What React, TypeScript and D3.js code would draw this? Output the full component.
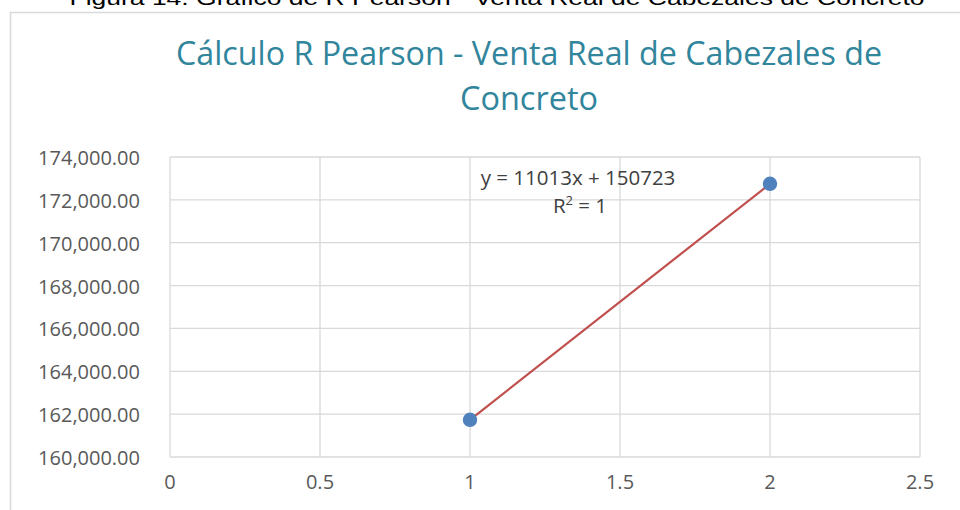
import React from "react";
import * as d3 from "d3";

const xValues = [1, 2];
const yValues = [161736, 172749];
const xTicks = [0, 0.5, 1, 1.5, 2, 2.5];
const yTicks = [160000, 162000, 164000, 166000, 168000, 170000, 172000, 174000];
const titleLines = ["Cálculo R Pearson - Venta Real de Cabezales de", "Concreto"];
const captionText = "Figura 14. Gráfico de R Pearson - Venta Real de Cabezales de Concreto";
const eqLine = "y = 11013x + 150723";

const W = 960;
const H = 510;
const plot = { left: 170, right: 920, top: 157, bottom: 457 };

export default function App() {
  const x = d3.scaleLinear().domain([0, 2.5]).range([plot.left, plot.right]);
  const y = d3.scaleLinear().domain([160000, 174000]).range([plot.bottom, plot.top]);
  const fmt = d3.format(",.2f");
  const line = d3
    .line<number>()
    .x((_, i) => x(xValues[i]))
    .y((d) => y(d));
  const font = "'Open Sans', sans-serif";
  return (
    <svg
      width={W}
      height={H}
      style={{ position: "absolute", left: 0, top: 0, background: "#fff" }}
    >
      <text
        x={497}
        y={5}
        textAnchor="middle"
        fontFamily="'Liberation Sans', Arial, sans-serif"
        fontSize={21}
        fill="#000"
        textLength={855}
        lengthAdjust="spacingAndGlyphs"
      >
        {captionText}
      </text>
      <rect x={10.5} y={12.5} width={W + 10} height={H} fill="#fff" stroke="#D9D9D9" strokeWidth={1.5} />
      {titleLines.map((t, i) => (
        <text
          key={i}
          x={529}
          y={65 + i * 45}
          textAnchor="middle"
          fontFamily={font}
          fontSize={32}
          fill="#31859C"
          textLength={i === 0 ? 706 : 138}
          lengthAdjust="spacingAndGlyphs"
        >
          {t}
        </text>
      ))}
      {yTicks.map((t) => (
        <line key={"h" + t} x1={plot.left} x2={plot.right} y1={y(t)} y2={y(t)} stroke="#D9D9D9" strokeWidth={1.3} />
      ))}
      {xTicks.map((t) => (
        <line key={"v" + t} x1={x(t)} x2={x(t)} y1={plot.top} y2={plot.bottom} stroke="#D9D9D9" strokeWidth={1.3} />
      ))}
      {yTicks.map((t) => (
        <text
          key={"yl" + t}
          x={140}
          y={y(t) + 8}
          textAnchor="end"
          fontFamily={font}
          fontSize={20}
          fill="#595959"
        >
          {fmt(t)}
        </text>
      ))}
      {xTicks.map((t) => (
        <text
          key={"xl" + t}
          x={x(t)}
          y={489}
          textAnchor="middle"
          fontFamily={font}
          fontSize={20}
          fill="#595959"
        >
          {String(t)}
        </text>
      ))}
      <path d={line(yValues) || ""} fill="none" stroke="#C0504D" strokeWidth={2.2} />
      {xValues.map((v, i) => (
        <circle key={"p" + i} cx={x(v)} cy={y(yValues[i])} r={7.2} fill="#4F81BD" />
      ))}
      <text x={578} y={185} textAnchor="middle" fontFamily={font} fontSize={20.5} fill="#404040">
        {eqLine}
      </text>
      <text x={580} y={213} textAnchor="middle" fontFamily={font} fontSize={20.5} fill="#404040">
        R<tspan dy={-8} fontSize={13}>2</tspan>
        <tspan dy={8}> = 1</tspan>
      </text>
    </svg>
  );
}
